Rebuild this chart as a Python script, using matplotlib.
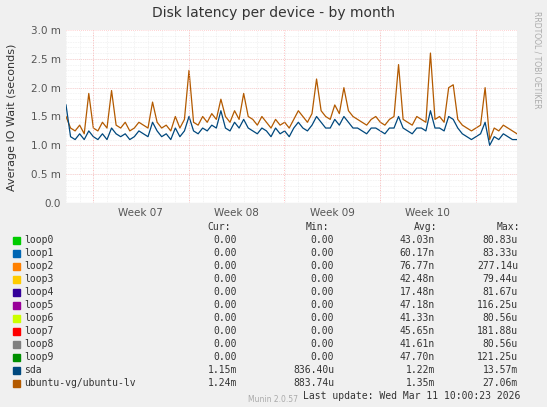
import matplotlib
matplotlib.use("Agg")
import matplotlib.pyplot as plt
import numpy as np

W, H = 547, 407
ubuntu = [1.5,1.3,1.25,1.35,1.2,1.9,1.3,1.25,1.4,1.3,
          1.95,1.35,1.3,1.4,1.25,1.3,1.4,1.35,1.3,1.75,
          1.4,1.3,1.35,1.25,1.5,1.3,1.45,2.3,1.4,1.35,
          1.5,1.4,1.55,1.45,1.8,1.5,1.4,1.6,1.45,1.9,
          1.5,1.45,1.35,1.5,1.4,1.3,1.45,1.35,1.4,1.3,
          1.45,1.6,1.5,1.4,1.55,2.15,1.6,1.5,1.45,1.7,
          1.55,2.0,1.6,1.5,1.45,1.4,1.35,1.45,1.5,1.4,
          1.35,1.45,1.5,2.4,1.45,1.4,1.35,1.5,1.45,1.4,
          2.6,1.45,1.5,1.4,2.0,2.05,1.45,1.35,1.3,1.25,
          1.3,1.35,2.0,1.1,1.3,1.25,1.35,1.3,1.25,1.2]
sda = [1.7,1.15,1.1,1.2,1.1,1.25,1.15,1.1,1.2,1.1,
       1.3,1.2,1.15,1.2,1.1,1.15,1.25,1.2,1.15,1.4,
       1.25,1.15,1.2,1.1,1.3,1.15,1.25,1.5,1.25,1.2,
       1.3,1.25,1.35,1.3,1.6,1.3,1.25,1.4,1.3,1.45,
       1.3,1.25,1.2,1.3,1.25,1.15,1.3,1.2,1.25,1.15,
       1.3,1.4,1.3,1.25,1.35,1.5,1.4,1.3,1.3,1.45,
       1.35,1.5,1.4,1.3,1.3,1.25,1.2,1.3,1.3,1.25,
       1.2,1.3,1.3,1.5,1.3,1.25,1.2,1.3,1.3,1.25,
       1.6,1.3,1.3,1.25,1.5,1.45,1.3,1.2,1.15,1.1,
       1.15,1.2,1.4,1.0,1.15,1.1,1.2,1.15,1.1,1.1]
names = ["loop0","loop1","loop2","loop3","loop4","loop5","loop6","loop7","loop8","loop9","sda","ubuntu-vg/ubuntu-lv"]
colors = ["#00CC00","#0066B3","#FF8000","#FFCC00","#330099","#990099","#CCFF00","#FF0000","#808080","#008F00","#00487D","#B35A00"]
cur = ["0.00"]*10 + ["1.15m","1.24m"]
mins = ["0.00"]*10 + ["836.40u","883.74u"]
avgs = ["43.03n","60.17n","76.77n","42.48n","17.48n","47.18n","41.33n","45.65n","41.61n","47.70n","1.22m","1.35m"]
maxs = ["80.83u","83.33u","277.14u","79.44u","81.67u","116.25u","80.56u","181.88u","80.56u","121.25u","13.57m","27.06m"]
weeks = ["Week 07","Week 08","Week 09","Week 10"]

fig = plt.figure(figsize=(W/100, H/100), dpi=100, facecolor="#F0F0F0")
ax = fig.add_axes([66/W, 1-203/H, 451/W, 173/H], facecolor="white")
days = np.linspace(0, 33, len(sda))
ax.plot(days, ubuntu, color=colors[11], lw=0.9)
ax.plot(days, sda, color=colors[10], lw=0.9)
ax.set_xlim(0, 33); ax.set_ylim(0, 3.0)
yt = np.arange(0, 3.01, 0.5)
ax.set_yticks(yt)
ax.set_yticklabels([f"{v:.1f} m" if v else "0.0" for v in yt], fontsize=7.5, color="#555555")
wstart = 1.97
ax.set_xticks([wstart + 7*k for k in range(5)])
ax.set_xticklabels([])
ax.set_xticks([wstart + 3.5 + 7*k for k in range(4)], minor=True)
ax.set_xticklabels(weeks, minor=True, fontsize=7.5, color="#555555")
ax.tick_params(which="both", length=0)
for k in range(5):
    ax.axvline(wstart + 7*k, color="#FFAAAA", lw=0.6, ls=(0, (1, 2)))
for d in np.arange(0, 33, 1):
    ax.axvline(d, color="#DDDDDD", lw=0.4, ls=(0, (1, 2)), zorder=0)
for v in np.arange(0.1, 3.0, 0.1):
    ax.axhline(v, color="#DDDDDD", lw=0.4, ls=(0, (1, 2)), zorder=0)
for v in yt[1:]:
    ax.axhline(v, color="#FFAAAA", lw=0.5, ls=(0, (1, 2)), zorder=0)
for s in ax.spines.values():
    s.set_visible(False)
ax.axhline(0, color="#BBBBBB", lw=0.8)

def t(x, y, s, **kw):
    fig.text(x/W, 1-y/H, s, va="center", **kw)

t(273, 13, "Disk latency per device - by month", ha="center", fontsize=10, color="#333333")
fig.text(12/W, 1-117/H, "Average IO Wait (seconds)", rotation=90, ha="center", va="center", fontsize=8, color="#333333")
fig.text(537/W, 1-60/H, "RRDTOOL / TOBI OETIKER", rotation=270, ha="center", va="center", fontsize=5.5, color="#AAAAAA")
mono = dict(family="DejaVu Sans Mono", fontsize=7, color="#333333")
t(231, 227, "Cur:", ha="right", **mono)
t(329, 227, "Min:", ha="right", **mono)
t(437, 227, "Avg:", ha="right", **mono)
t(520, 227, "Max:", ha="right", **mono)
for i, n in enumerate(names):
    y = 240 + 13*i
    fig.patches.append(plt.Rectangle((13/W, 1-(y+3.5)/H), 7/W, 7/H, transform=fig.transFigure, color=colors[i]))
    t(24, y, n, ha="left", **mono)
    t(237, y, cur[i], ha="right", **mono)
    t(334, y, mins[i], ha="right", **mono)
    t(435, y, avgs[i], ha="right", **mono)
    t(518, y, maxs[i], ha="right", **mono)
t(520, 384+12, "Last update: Wed Mar 11 10:00:23 2026", ha="right", **mono)
t(273, 398+1, "Munin 2.0.57", ha="center", fontsize=5.5, color="#AAAAAA")
fig.savefig("out.png", dpi=100, facecolor=fig.get_facecolor())
